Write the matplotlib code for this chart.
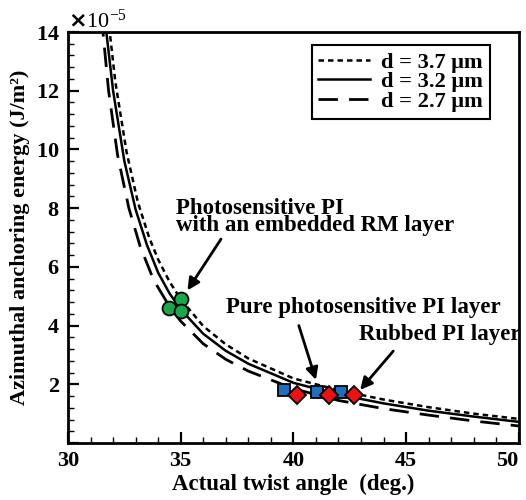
import numpy as np
import matplotlib
matplotlib.use("Agg")
import matplotlib.pyplot as plt
from matplotlib.ticker import MultipleLocator, ScalarFormatter

plt.rcParams['font.family'] = ['Liberation Serif', 'DejaVu Serif']
plt.rcParams['font.weight'] = 'bold'

# curves (twist angle in deg, W in 1e-5 J/m^2)
x_37 = [31.75, 31.85, 32.1, 32.6, 33.1, 33.6, 34.0, 34.5, 35.0, 36.0, 37.0, 38.0, 40.0, 42.0, 44.0, 46.0, 48.0, 50.0]
w_37 = [14.5, 14.0, 12.3, 9.9, 8.2, 7.0, 6.25, 5.5, 4.9, 3.98, 3.36, 2.88, 2.2, 1.8, 1.48, 1.22, 1.0, 0.82]

x_32 = [31.6, 31.7, 32.0, 32.5, 33.0, 33.5, 34.0, 34.5, 35.0, 36.0, 37.0, 38.0, 40.0, 42.0, 44.0, 46.0, 48.0, 50.0]
w_32 = [14.6, 14.0, 12.0, 9.6, 7.95, 6.75, 5.8, 5.1, 4.55, 3.72, 3.14, 2.7, 2.05, 1.65, 1.35, 1.1, 0.9, 0.72]

x_27 = [31.45, 31.55, 31.8, 32.2, 32.7, 33.2, 33.8, 34.5, 35.0, 36.0, 37.0, 38.0, 40.0, 42.0, 44.0, 46.0, 48.0, 50.0]
w_27 = [14.5, 14.0, 12.0, 9.8, 8.0, 6.7, 5.55, 4.65, 4.15, 3.38, 2.85, 2.45, 1.85, 1.45, 1.17, 0.95, 0.75, 0.58]

# measured points
rm_x = [34.5, 35.0, 35.0]
rm_w = [4.6, 4.9, 4.5]
pure_x = [39.6, 41.05, 42.1]
pure_w = [1.8, 1.75, 1.75]
rub_x = [40.15, 41.6, 42.7]
rub_w = [1.63, 1.63, 1.63]

x_ticks = [30, 35, 40, 45, 50]
y_ticks = [0, 2, 4, 6, 8, 10, 12, 14]

scale = 1e-5

fig = plt.figure(figsize=(5.26, 5.0), dpi=100)
ax = fig.add_axes([0.1293, 0.114, 0.857, 0.822])

ax.plot(x_37, np.array(w_37) * scale, color='black', lw=1.8, dashes=(2.2, 1.6), label='d = 3.7 \u03bcm')
ax.plot(x_32, np.array(w_32) * scale, color='black', lw=1.8, label='d = 3.2 \u03bcm')
ax.plot(x_27, np.array(w_27) * scale, color='black', lw=2.0, dashes=(7, 4), label='d = 2.7 \u03bcm')

ax.plot(rm_x, np.array(rm_w) * scale, 'o', ms=10, mfc='#1aa64a', mec='black', mew=1.3, ls='none', zorder=5)
ax.plot(pure_x, np.array(pure_w) * scale, 's', ms=9, mfc='#1f6fc0', mec='black', mew=1.3, ls='none', zorder=5)
ax.plot(rub_x, np.array(rub_w) * scale, 'D', ms=9, mfc='#ee1111', mec='black', mew=1.3, ls='none', zorder=6)

ax.set_xlim(30, 50)
ax.set_ylim(0, 14e-5)
ax.set_xticks(x_ticks)
ax.set_yticks(np.array(y_ticks) * scale)
ax.xaxis.set_minor_locator(MultipleLocator(1))
ax.yaxis.set_minor_locator(MultipleLocator(0.4e-5))
fmt = ScalarFormatter(useMathText=True)
fmt.set_powerlimits((-5, -5))
ax.yaxis.set_major_formatter(fmt)
ax.yaxis.get_offset_text().set_fontsize(16)
ax.yaxis.get_offset_text().set_fontweight('normal')

ax.tick_params(which='major', direction='in', length=8, width=1.6, labelsize=16, pad=6)
ax.tick_params(which='minor', direction='in', length=4.5, width=1.0)
for s in ax.spines.values():
    s.set_linewidth(2)

ax.set_xlabel('Actual twist angle  (deg.)', fontsize=16.5, fontweight='bold', labelpad=2)
ax.set_ylabel('Azimuthal anchoring energy (J/m\u00b2)', fontsize=16, fontweight='bold', labelpad=4)

yt = ax.yaxis.get_major_ticks()
yt[0].label1.set_visible(False)
xt = ax.xaxis.get_major_ticks()
xt[-1].label1.set_horizontalalignment('right')

ax.annotate('Photosensitive PI\nwith an embedded RM layer', xy=(35.3, 5.2e-5), xytext=(34.77, 7.7e-5),
            fontsize=16.5, fontweight='bold', va='center', ha='left', linespacing=0.8,
            arrowprops=dict(arrowstyle='-|>', color='black', lw=2, mutation_scale=18,
                            shrinkA=0, shrinkB=0, relpos=(0.17, 0)))
ax.annotate('', xy=(41.0, 2.15e-5), xytext=(40.24, 4.0e-5),
            arrowprops=dict(arrowstyle='-|>', color='black', lw=2, mutation_scale=18, shrinkA=0, shrinkB=0))
ax.text(37.0, 4.63e-5, 'Pure photosensitive PI layer', fontsize=16.5, fontweight='bold', va='center', ha='left')
ax.annotate('', xy=(42.96, 1.81e-5), xytext=(44.43, 3.13e-5),
            arrowprops=dict(arrowstyle='-|>', color='black', lw=2, mutation_scale=18, shrinkA=0, shrinkB=0))
ax.text(42.92, 3.71e-5, 'Rubbed PI layer', fontsize=16.5, fontweight='bold', va='center', ha='left')

leg = ax.legend(loc='upper right', bbox_to_anchor=(0.936, 0.968), fontsize=16.2, handlelength=2.3,
                labelspacing=-0.05, borderpad=0.3, handletextpad=0.5, borderaxespad=0,
                fancybox=False, edgecolor='black', framealpha=1)
leg.get_frame().set_linewidth(1.5)

fig.savefig('out.png', dpi=100)
